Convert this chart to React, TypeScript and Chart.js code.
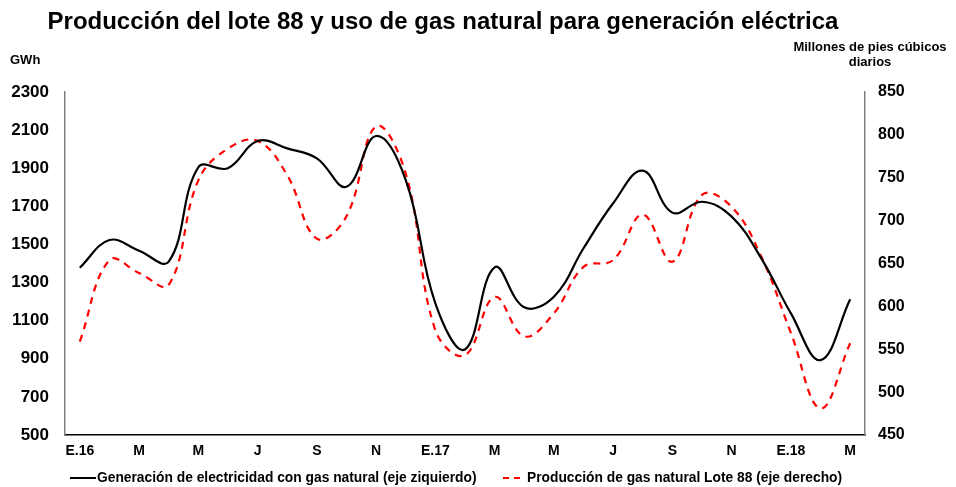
import React, { useEffect, useRef } from "react";
import { Chart, registerables } from "chart.js";

Chart.register(...registerables);

const months = [
  "E.16", "F", "M", "A", "M", "J", "J", "A", "S", "O", "N", "D",
  "E.17", "F", "M", "A", "M", "J", "J", "A", "S", "O", "N", "D",
  "E.18", "F", "M",
];
const tickLabels = ["E.16", "M", "M", "J", "S", "N", "E.17", "M", "M", "J", "S", "N", "E.18", "M"];

const electricityGWh = [
  1378, 1523, 1467, 1410, 1905, 1900, 2043, 2004, 1952, 1803, 2069, 1838,
  1191, 949, 1380, 1170, 1226, 1480, 1716, 1887, 1667, 1724, 1646, 1427,
  1138, 893, 1212,
];
const gasProduction = [
  559, 654, 639, 625, 747, 784, 793, 753, 679, 705, 810, 755,
  572, 543, 611, 565, 592, 646, 654, 707, 652, 730, 716, 658,
  569, 481, 557,
];

const FONT = "Arial, 'Liberation Sans', sans-serif";

const textPlugin = {
  id: "texts",
  afterDraw(chart: any) {
    const ctx = chart.ctx;
    ctx.save();
    ctx.fillStyle = "#000";
    ctx.textBaseline = "middle";
    ctx.font = `bold 24px ${FONT}`;
    ctx.textAlign = "center";
    ctx.fillText("Producción del lote 88 y uso de gas natural para generación eléctrica", 443, 22);
    ctx.font = `bold 13px ${FONT}`;
    ctx.textAlign = "left";
    ctx.fillText("GWh", 10, 60);
    ctx.textAlign = "center";
    ctx.fillText("Millones de pies cúbicos", 870, 47);
    ctx.fillText("diarios", 870, 62);
    // legend
    const ly = 478;
    ctx.strokeStyle = "#000";
    ctx.lineWidth = 2;
    ctx.setLineDash([]);
    ctx.beginPath();
    ctx.moveTo(70, ly);
    ctx.lineTo(96, ly);
    ctx.stroke();
    ctx.textAlign = "left";
    ctx.font = `bold 13.8px ${FONT}`;
    ctx.fillText("Generación de electricidad con gas natural (eje ziquierdo)", 97, ly);
    ctx.strokeStyle = "#ff0000";
    ctx.setLineDash([6, 5]);
    ctx.beginPath();
    ctx.moveTo(503, ly);
    ctx.lineTo(522, ly);
    ctx.stroke();
    ctx.setLineDash([]);
    ctx.fillText("Producción de gas natural Lote 88 (eje derecho)", 527, ly);
    ctx.restore();
  },
};

export default function App() {
  const ref = useRef<HTMLCanvasElement>(null);
  useEffect(() => {
    if (!ref.current) return;
    const chart = new Chart(ref.current, {
      type: "line",
      data: {
        labels: months,
        datasets: [
          {
            label: "Generación de electricidad con gas natural (eje ziquierdo)",
            data: electricityGWh,
            borderColor: "#000",
            borderWidth: 2.2,
            pointRadius: 0,
            tension: 0.4,
            fill: false,
            yAxisID: "y",
          },
          {
            label: "Producción de gas natural Lote 88 (eje derecho)",
            data: gasProduction,
            borderColor: "#ff0000",
            borderWidth: 2.2,
            borderDash: [7, 6],
            pointRadius: 0,
            tension: 0.4,
            fill: false,
            yAxisID: "y1",
          },
        ],
      },
      options: {
        responsive: false,
        animation: false,
        layout: { padding: { top: 92, left: 0, right: 0, bottom: 0 } },
        plugins: {
          legend: { display: false },
          title: { display: false },
          tooltip: { enabled: false },
        },
        scales: {
          x: {
            offset: true,
            grid: { display: true, drawOnChartArea: false, drawTicks: false },
            border: { display: true, color: "#000", width: 1.5 },
            afterFit: (s: any) => { s.height = 52; },
            ticks: {
              autoSkip: false,
              maxRotation: 0,
              padding: 8,
              color: "#000",
              font: { family: FONT, size: 14, weight: "bold" },
              callback: (_v: any, i: number) => (i % 2 === 0 ? tickLabels[i / 2] : ""),
            },
          },
          y: {
            position: "left",
            min: 500,
            max: 2300,
            grid: { display: true, drawOnChartArea: false, drawTicks: false },
            border: { display: true, color: "#808080", width: 1.5 },
            afterFit: (s: any) => { s.width = 65; },
            ticks: {
              stepSize: 200,
              padding: 16,
              color: "#000",
              font: { family: FONT, size: 17, weight: "bold" },
              callback: (v: any) => String(v),
            },
          },
          y1: {
            position: "right",
            min: 450,
            max: 850,
            grid: { display: true, drawOnChartArea: false, drawTicks: false },
            border: { display: true, color: "#808080", width: 1.5 },
            afterFit: (s: any) => { s.width = 91; },
            ticks: {
              stepSize: 50,
              padding: 13,
              color: "#000",
              font: { family: FONT, size: 16, weight: "bold" },
              callback: (v: any) => String(v),
            },
          },
        },
      },
      plugins: [textPlugin],
    });
    return () => chart.destroy();
  }, []);
  return (
    <div style={{ position: "absolute", left: 0, top: 0, width: 956, height: 487, background: "#fff" }}>
      <canvas ref={ref} width={956} height={487} />
    </div>
  );
}
